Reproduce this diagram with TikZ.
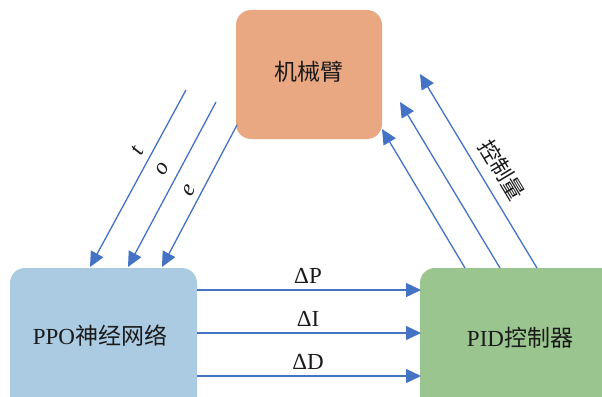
\documentclass[tikz,border=0pt]{standalone}
\usepackage{fontspec}
\setmainfont{Liberation Serif}
\newfontfamily\cjk{Noto Sans CJK SC}
\usetikzlibrary{arrows.meta}

\definecolor{armfill}{HTML}{EAA882}
\definecolor{ppofill}{HTML}{ABCBE2}
\definecolor{pidfill}{HTML}{9BC58F}
\definecolor{flow}{HTML}{4472C4}
\definecolor{ink}{HTML}{1A1A1A}

\tikzset{
  block/.style={rounded corners=15pt, inner sep=0pt, draw=none, text=ink,
    font=\fontsize{23}{23}\selectfont},
  signal/.style={draw=flow, line width=1.3pt,
    -{Triangle[length=15pt,width=14pt]}},
  tag/.style={text=ink, inner sep=0pt, font=\fontsize{23}{23}\selectfont},
}

\begin{document}
\begin{tikzpicture}[x=1pt, y=-1pt]
  \useasboundingbox (0,0) rectangle (602,396);
  \clip (0,0) rectangle (602,396);

  % the three blocks (the lower two run past the bottom edge)
  \path[block, fill=armfill] (236,10) rectangle (382,139);
  \node[block] (arm) at (309,72) {\cjk 机械臂};
  \path[block, fill=ppofill] (10,268) rectangle (197,420);
  \node[block] (ppo) at (100,336) {PPO\cjk 神经网络};
  \path[block, fill=pidfill] (420,268) rectangle (630,420);
  \node[block] (pid) at (520,338) {PID\cjk 控制器};

  % observations from the arm down to the network
  \coordinate (t0) at (186,90);   \coordinate (t1) at (90,267);
  \coordinate (o0) at (216,102);  \coordinate (o1) at (128,267);
  \coordinate (e0) at (237,125);  \coordinate (e1) at (162,267);
  \draw[signal] (t0) -- (t1);
  \draw[signal] (o0) -- (o1);
  \draw[signal] (e0) -- (e1);
  \node[tag, rotate=61.5] (tl) at (138,150) {\textit{t}};
  \node[tag, rotate=62] (ol) at (163,169) {\textit{o}};
  \node[tag, rotate=62] (el) at (189,191) {\textit{e}};

  % gain adjustments from the network to the controller
  \coordinate (p0) at (197,290);  \coordinate (p1) at (421,290);
  \coordinate (i0) at (197,333);  \coordinate (i1) at (421,333);
  \coordinate (d0) at (197,376);  \coordinate (d1) at (421,376);
  \draw[signal] (p0) -- (p1);
  \draw[signal] (i0) -- (i1);
  \draw[signal] (d0) -- (d1);
  \node[tag] (dp) at (308,276) {ΔP};
  \node[tag] (di) at (308,319) {ΔI};
  \node[tag] (dd) at (308,362) {ΔD};

  % control output from the controller back to the arm
  \coordinate (u1a) at (465,268); \coordinate (u1b) at (382,129);
  \coordinate (u2a) at (500,268); \coordinate (u2b) at (400,102);
  \coordinate (u3a) at (537,268); \coordinate (u3b) at (420,74);
  \draw[signal] (u1a) -- (u1b);
  \draw[signal] (u2a) -- (u2b);
  \draw[signal] (u3a) -- (u3b);
  \node[tag, rotate=-59, font=\fontsize{22}{22}\selectfont\cjk] (ctl) at (502,170) {控制量};
\end{tikzpicture}
\end{document}
